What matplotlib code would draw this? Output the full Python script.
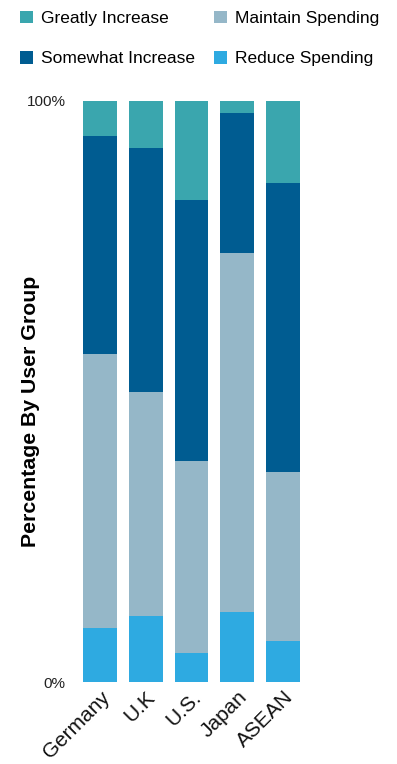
import matplotlib.pyplot as plt
from matplotlib.patches import Patch

plt.rcParams['font.family'] = ['Liberation Sans', 'DejaVu Sans']

# data (percent of respondents)
groups = ['Germany', 'U.K', 'U.S.', 'Japan', 'ASEAN']
greatly = [6.0, 8.1, 17.1, 2.1, 14.1]
somewhat = [37.6, 41.9, 44.8, 24.1, 49.7]
maintain = [47.1, 38.6, 33.1, 61.7, 29.1]
reduce_ = [9.3, 11.4, 5.0, 12.1, 7.1]

colors = {
    'Greatly Increase': '#3aa6ae',
    'Somewhat Increase': '#005c91',
    'Maintain Spending': '#95b7c8',
    'Reduce Spending': '#2eaae1',
}

fig = plt.figure(figsize=(3.97, 7.64), dpi=100)
ax = fig.add_axes([83 / 397, 1 - 682 / 764, 217 / 397, 581 / 764])

x = range(len(groups))
w = 0.74
bottom = [0] * len(groups)
for name, vals in [('Reduce Spending', reduce_), ('Maintain Spending', maintain),
                   ('Somewhat Increase', somewhat), ('Greatly Increase', greatly)]:
    ax.bar(x, vals, w, bottom=bottom, color=colors[name], linewidth=0)
    bottom = [b + v for b, v in zip(bottom, vals)]

ax.set_xlim(-0.37, 4.37)
ax.set_ylim(0, 100)
ax.set_yticks([0, 100])
ax.set_yticklabels(['0%', '100%'], fontsize=11, color='#222222')
ax.set_xticks(list(x))
ax.set_xticklabels(groups, rotation=45, ha='right', rotation_mode='anchor',
                   fontsize=15, color='#111111')
ax.tick_params(length=0, pad=12.5, axis='y')
ax.tick_params(length=0, pad=4, axis='x')
for s in ax.spines.values():
    s.set_visible(False)

fig.text(31 / 397, 1 - 411 / 764, 'Percentage By User Group', rotation=90,
         ha='center', va='center', fontsize=15.3, fontweight='bold')

order = ['Greatly Increase', 'Somewhat Increase', 'Maintain Spending', 'Reduce Spending']
handles = [Patch(facecolor=colors[n], label=n) for n in order]
fig.legend(handles=handles, ncol=2, loc='upper left', bbox_to_anchor=(4 / 397, 1 + 5 / 764),
           frameon=False, fontsize=12.5, handlelength=0.75, handleheight=0.75,
           handletextpad=0.5, labelspacing=1.43, columnspacing=1.05)

fig.savefig('out.png', dpi=100)
